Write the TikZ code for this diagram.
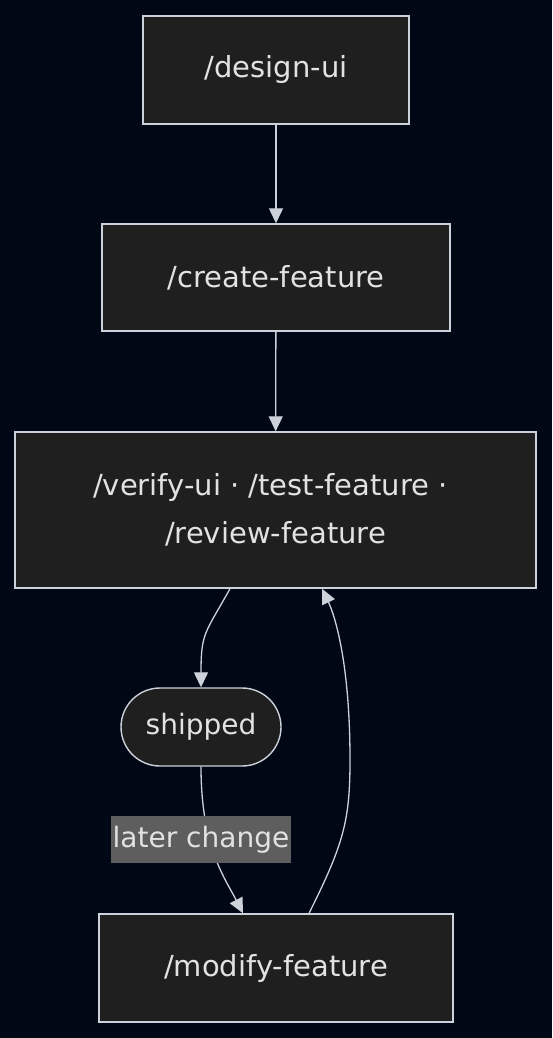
\documentclass[tikz,border=0pt]{standalone}
\usepackage{fontspec}
\setmainfont{DejaVu Sans}
\usetikzlibrary{arrows.meta}
\definecolor{bgnavy}{HTML}{000815}
\definecolor{boxfill}{HTML}{1F1F1F}
\definecolor{boxline}{HTML}{CDD1DA}
\definecolor{txtgray}{HTML}{E2E2E2}
\definecolor{lblfill}{HTML}{5E5E5E}

\begin{document}
\begin{tikzpicture}[x=1pt,y=-1pt,
  cmdbox/.style={draw=boxline,line width=1.4pt,fill=boxfill,text=txtgray,inner sep=0pt,
    align=center,font=\fontsize{29}{48}\selectfont},
  stadium/.style={cmdbox,rounded corners=39pt,minimum width=160pt,minimum height=78pt,
    font=\fontsize{28}{32}\selectfont},
  flow/.style={draw=boxline,line width=1.3pt,-{Triangle[length=15pt,width=14pt]}},
  edgelbl/.style={fill=lblfill,text=txtgray,inner sep=0pt,minimum width=180pt,minimum height=47pt,
    font=\fontsize{28}{32}\selectfont}]
\fill[bgnavy] (0,0) rectangle (552,1038);
\useasboundingbox (0,0) rectangle (552,1038);

\node[cmdbox,minimum width=266pt,minimum height=108pt] (design) at (276,70) {/design-ui};
\node[cmdbox,minimum width=348pt,minimum height=107pt] (create) at (276,277.5) {/create-feature};
\node[cmdbox,minimum width=521pt,minimum height=156pt] (verify) at (275.5,510)
  {/verify-ui · /test-feature ·\hspace*{10pt}\\/review-feature};
\node[stadium] (shipped) at (201,727) {shipped};
\node[cmdbox,minimum width=354pt,minimum height=108pt] (modify) at (276,968) {/modify-feature};

\draw[flow] (design) -- (create);
\draw[flow] (create) -- (verify);
\draw[flow] ([xshift=-45.5pt]verify.south) .. controls +(-25,45) and +(0,-55) .. (shipped.north);
\draw[flow] (shipped.south) .. controls +(0,80) and +(-18,-35) .. ([xshift=-33pt]modify.north);
\draw[flow] ([xshift=33pt]modify.north) .. controls +(35,-70) and +(0,60) .. (350,760)
  .. controls +(0,-100) and +(12,25) .. ([xshift=46.5pt]verify.south);

\node[edgelbl] (later) at (201,839.5) {later change};
\end{tikzpicture}
\end{document}
